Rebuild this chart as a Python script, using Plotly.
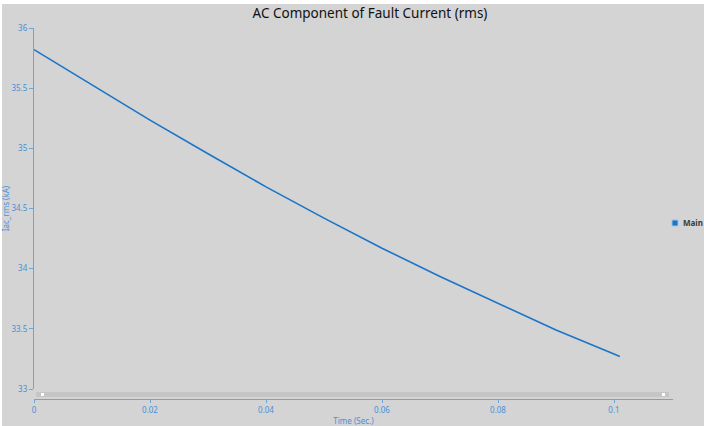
import plotly.graph_objects as go

# AC component of the fault current (rms), kA, versus time in seconds
time_s = [0.0, 0.01, 0.02, 0.03, 0.04, 0.05, 0.06, 0.07, 0.08, 0.09, 0.10, 0.101]
iac_rms_ka = [35.82, 35.525, 35.235, 34.955, 34.68, 34.42, 34.17, 33.935, 33.71, 33.49, 33.29, 33.27]
series_name = "Main"

x_ticks = [0, 0.02, 0.04, 0.06, 0.08, 0.1]
x_tick_text = ["0", "0.02", "0.04", "0.06", "0.08", "0.1"]
y_ticks = [33, 33.5, 34, 34.5, 35, 35.5, 36]
y_tick_text = ["33", "33.5", "34", "34.5", "35", "35.5", "36"]

W, H = 704, 426
ML, MR, MT, MB = 34, 31, 28, 27
PW, PH = W - ML - MR, H - MT - MB

BG = "#d4d4d4"
LINE = "#1b74c8"
AXIS = "#6aa6dd"
TICKTXT = "#4a8fd6"
FONT = "Noto Sans, Open Sans, sans-serif"


def px_x(p):
    return (p - ML) / PW


def px_y(p):
    return (H - MB - p) / PH


fig = go.Figure()
fig.add_trace(go.Scatter(
    x=time_s, y=iac_rms_ka, mode="lines", name=series_name,
    line=dict(color=LINE, width=1.6), showlegend=False,
))

shapes = [
    # grey canvas
    dict(type="rect", xref="paper", yref="paper", layer="below",
         x0=px_x(2), x1=px_x(W + 2), y0=px_y(H + 2), y1=px_y(4),
         fillcolor=BG, line=dict(width=0)),
    # scroll bar track
    dict(type="rect", xref="paper", yref="paper", layer="above",
         x0=px_x(36), x1=px_x(669), y0=px_y(397), y1=px_y(392),
         fillcolor="#c5c5c5", line=dict(width=0)),
    # scroll bar handles
    dict(type="rect", xref="paper", yref="paper", layer="above",
         x0=px_x(41), x1=px_x(44), y0=px_y(396), y1=px_y(393),
         fillcolor="#ffffff", line=dict(width=0)),
    dict(type="rect", xref="paper", yref="paper", layer="above",
         x0=px_x(662), x1=px_x(665), y0=px_y(396), y1=px_y(393),
         fillcolor="#ffffff", line=dict(width=0)),
    # legend swatch
    dict(type="rect", xref="paper", yref="paper", layer="above",
         x0=px_x(672), x1=px_x(678), y0=px_y(226), y1=px_y(220),
         fillcolor=LINE, line=dict(width=1, color="#9cc3ea")),
]

annotations = [
    dict(text="<b>" + series_name + "</b>", xref="paper", yref="paper",
         x=px_x(681), y=px_y(223), xanchor="left", yanchor="middle",
         showarrow=False, font=dict(family=FONT, size=8, color="#3a3a3a")),
]

fig.update_layout(
    width=W, height=H,
    margin=dict(l=ML, r=MR, t=MT, b=MB, pad=0),
    paper_bgcolor="#ffffff",
    plot_bgcolor="rgba(0,0,0,0)",
    title=dict(text="AC Component of Fault Current (rms)",
               x=(370) / W, xanchor="center", y=1 - 13 / H, yanchor="middle",
               font=dict(family=FONT, size=13.5, color="#111111")),
    xaxis=dict(
        range=[0, PW / 5800.0], anchor="free", position=0, automargin=False,
        tickvals=x_ticks, ticktext=x_tick_text,
        showgrid=False, zeroline=False,
        showline=True, linecolor=AXIS, linewidth=1.3,
        ticks="outside", ticklen=3, tickcolor=AXIS, tickwidth=1.3,
        tickfont=dict(family=FONT, size=8, color=TICKTXT),
        title=dict(text="Time (Sec.)", standoff=4,
                   font=dict(family=FONT, size=8, color=TICKTXT)),
    ),
    yaxis=dict(
        range=[33, 36], domain=[px_y(389), 1], automargin=False,
        tickvals=y_ticks, ticktext=y_tick_text,
        showgrid=False, zeroline=False,
        showline=True, linecolor=AXIS, linewidth=1.3,
        ticks="outside", ticklen=4, tickcolor=AXIS, tickwidth=1.3,
        tickfont=dict(family=FONT, size=8, color=TICKTXT),
        title=dict(text="Iac_rms (kA)", standoff=4,
                   font=dict(family=FONT, size=8, color=TICKTXT)),
    ),
    shapes=shapes,
    annotations=annotations,
    showlegend=False,
)

fig.write_html("out.html")
